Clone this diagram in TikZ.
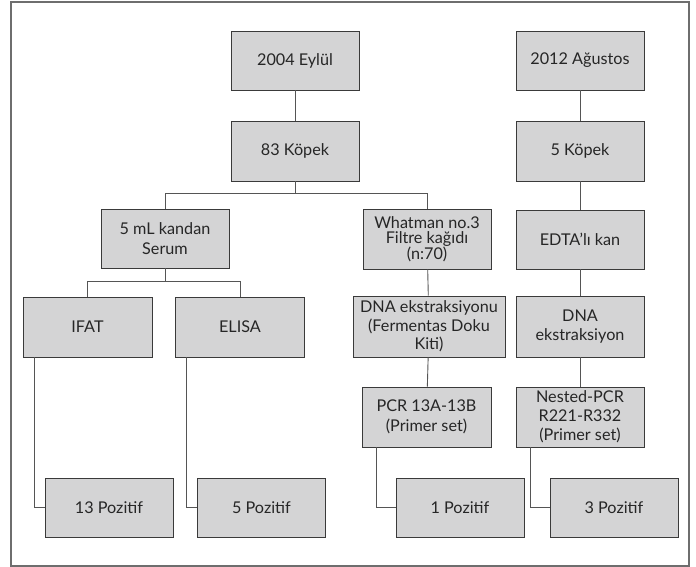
\documentclass[tikz,border=0pt]{standalone}
\usepackage{fontspec}
\setmainfont{Lato}
\usepackage{tikz}
\usepackage{xcolor}
\definecolor{boxfill}{HTML}{D4D4D5}
\definecolor{boxline}{HTML}{3A3A3A}
\definecolor{linkline}{HTML}{555555}
\definecolor{framegray}{HTML}{6E6E6E}

\begin{document}
\begin{tikzpicture}[x=1pt, y=-1pt,
    box/.style={draw=boxline, fill=boxfill, line width=0.9pt, inner sep=0pt,
      minimum width=128pt, minimum height=59pt, align=center, text=black!85,
      font=\fontsize{16.2}{19.5}\selectfont},
    link/.style={draw=linkline, line width=0.9pt}]
  \useasboundingbox (0,0) rectangle (696,567);
  \draw[framegray, line width=1.1pt] (11,2) rectangle (689,566);

  \node[box] (y2004) at (295,60.5) {2004 Eylül};
  \node[box, minimum height=60pt] (k83) at (295,151) {83 Köpek};
  \node[box] (serum) at (165,238.5) {5 mL kandan\\Serum};
  \node[box, minimum height=60pt, font=\fontsize{16.2}{15}\selectfont] (whatman) at (427,239) {Whatman no.3\\Filtre kağıdı\\(n:70)};
  \node[box, minimum width=129pt, minimum height=60pt] (ifat) at (87.5,327) {IFAT};
  \node[box, minimum width=129pt, minimum height=60pt] (elisa) at (240,327) {ELISA};
  \node[box, minimum width=152pt, minimum height=61pt, font=\fontsize{16.2}{18.5}\selectfont] (dnaf) at (429,326.5) {DNA ekstraksiyonu\\(Fermentas Doku\\Kiti)};
  \node[box, minimum width=129pt, minimum height=60pt] (pcr) at (426.5,417) {PCR 13A-13B\\(Primer set)};

  \node[box] (y2012) at (580,60.5) {2012 Ağustos};
  \node[box, minimum height=60pt] (k5) at (580,151) {5 Köpek};
  \node[box] (edta) at (580,239.5) {EDTA’lı kan};
  \node[box, minimum height=61pt] (dnae) at (580,326.5) {DNA\\ekstraksiyon};
  \node[box, minimum height=60pt, font=\fontsize{16.2}{19}\selectfont] (nested) at (580,417) {Nested-PCR\\R221-R332\\(Primer set)};

  \node[box] (poz13) at (109,507.5) {13 Pozitif};
  \node[box] (poz5) at (261.5,507.5) {5 Pozitif};
  \node[box] (poz1) at (460,507.5) {1 Pozitif};
  \node[box] (poz3) at (614,507.5) {3 Pozitif};

  \draw[link] (y2004) -- (k83);
  \draw[link] (k83.south) -- ++(0,12) -| (serum.north);
  \draw[link] (k83.south) -- ++(0,12) -| (whatman.north);
  \draw[link] (serum.south) -- ++(0,13) -| (ifat.north);
  \draw[link] (serum.south) -- ++(0,13) -| (elisa.north);
  \draw[link] (whatman) -- (dnaf);
  \draw[link] (dnaf) -- (pcr);

  \draw[link] (y2012) -- (k5);
  \draw[link] (k5) -- (edta);
  \draw[link] (edta) -- (dnae);
  \draw[link] (dnae) -- (nested);

  % results
  \draw[link] ([xshift=12pt]ifat.south west) |- (poz13.west);
  \draw[link] ([xshift=11pt]elisa.south west) |- (poz5.west);
  \draw[link] ([xshift=15pt]pcr.south west) |- (poz1.west);
  \draw[link] ([xshift=15pt]nested.south west) |- (poz3.west);
\end{tikzpicture}
\end{document}
